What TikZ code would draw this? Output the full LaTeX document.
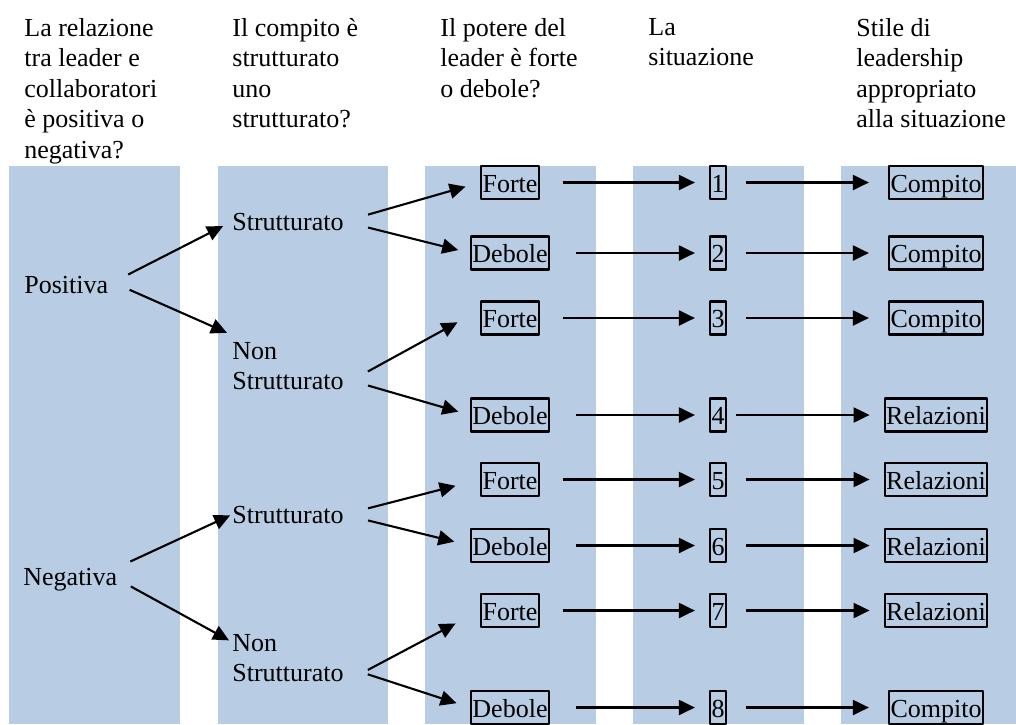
\documentclass[tikz,border=0pt]{standalone}
\usepackage{fontspec}
\setmainfont{Liberation Serif}
\usetikzlibrary{arrows.meta}
\definecolor{colonna}{HTML}{B8CCE4}
\tikzset{
	cella/.style={draw, line width=1.1pt, inner xsep=0.75pt, inner ysep=0.5pt, text height=12.5pt, text depth=3pt},
	voce/.style={inner sep=0pt},
	titolo/.style={inner sep=0pt, anchor=north west, align=left},
	freccia/.style={-{Triangle[length=8pt,width=7.5pt]}, line width=1.05pt},
}
\begin{document}
\begin{tikzpicture}[x=0.5pt, y=-0.5pt, font=\fontsize{13}{15.25}\selectfont, line join=round]
	\useasboundingbox (0,0) rectangle (1016,724);
	% Colonne azzurre
	\foreach \xa/\xb in {9/180, 218/388, 425/596, 633/804, 841/1016}
		\fill[colonna] (\xa,166) rectangle (\xb,724);
	% Intestazioni
	\node[titolo] (t1) at (24,18) {La relazione\\tra leader e\\collaboratori\\è positiva o\\negativa?};
	\node[titolo] (t2) at (232,18) {Il compito è\\strutturato\\uno\\strutturato?};
	\node[titolo] (t3) at (440,18) {Il potere del\\leader è forte\\o debole?};
	\node[titolo] (t4) at (648,18) {La\\situazione};
	\node[titolo] (t5) at (856,18) {Stile di\\leadership\\appropriato\\alla situazione};
	% Relazione e compito
	\node[voce, anchor=base west] (pos) at (24,293) {Positiva};
	\node[voce, anchor=base west] (neg) at (23,585) {Negativa};
	\node[voce, anchor=base west] (s1) at (232,230) {Strutturato};
	\node[voce, anchor=north west, align=left] (ns1) at (232,342) {Non\\Strutturato};
	\node[voce, anchor=base west] (s2) at (232,523) {Strutturato};
	\node[voce, anchor=north west, align=left] (ns2) at (232,634) {Non\\Strutturato};
	% Potere, situazione, stile
	\foreach \i/\y/\pw/\sa/\sc/\res/\sb in {
		1/182.5/Forte/11.25/9.5/Compito/9.5,
		2/253/Debole/12.75/9.5/Compito/9.5,
		3/318/Forte/11.25/9.5/Compito/9.5,
		4/415/Debole/12.75/4.5/Relazioni/7,
		5/479.5/Forte/11.25/9.5/Relazioni/7,
		6/545.5/Debole/12.75/9.5/Relazioni/7,
		7/610.5/Forte/11.25/9.5/Relazioni/7,
		8/707.5/Debole/12.75/9.5/Compito/9.5} {
		\node[cella] (p\i) at (510,\y) {\pw};
		\node[cella] (n\i) at (718,\y) {\i};
		\node[cella] (r\i) at (936,\y) {\res};
		\draw[freccia, shorten <=\sa pt, shorten >=7pt] (p\i) -- (n\i);
		\draw[freccia, shorten <=\sc pt, shorten >=\sb pt] (n\i) -- (r\i);
	}
	% Frecce oblique
	\draw[freccia, shorten <=11pt, shorten >=5pt] (pos.east) -- (s1.west);
	\draw[freccia, shorten <=11.5pt, shorten >=2.75pt] ([yshift=2pt]pos.east) -- ([yshift=3.5pt]ns1.north west);
	\draw[freccia, shorten <=7pt, shorten >=1pt] (neg.north east) -- (s2.west);
	\draw[freccia, shorten <=7.5pt, shorten >=1.7pt] (neg.east) -- ([yshift=-4pt]ns2.north west);
	\draw[freccia, shorten <=12.5pt, shorten >=7.5pt] (s1.east) -- (p1.west);
	\draw[freccia, shorten <=12.4pt, shorten >=6pt] (s1.east) -- (p2.west);
	\draw[freccia, shorten <=13.6pt, shorten >=12.8pt] ([yshift=3pt]ns1.south east) -- ([yshift=4pt]p3.west);
	\draw[freccia, shorten <=12.5pt, shorten >=6pt] ([yshift=6pt]ns1.south east) -- (p4.west);
	\draw[freccia, shorten <=12.4pt, shorten >=12.6pt] (s2.east) -- (p5.west);
	\draw[freccia, shorten <=12.4pt, shorten >=8pt] (s2.east) -- (p6.west);
	\draw[freccia, shorten <=13.5pt, shorten >=13.8pt] (ns2.south east) -- (p7.west);
	\draw[freccia, shorten <=12.5pt, shorten >=7pt] ([yshift=8pt]ns2.south east) -- (p8.west);
\end{tikzpicture}
\end{document}
